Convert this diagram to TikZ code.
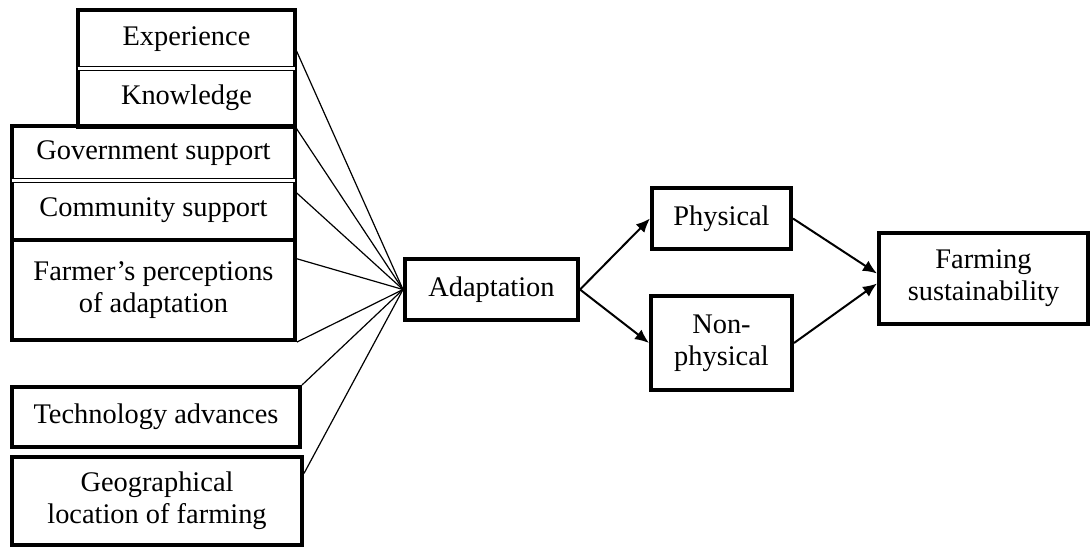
\documentclass[tikz,border=0pt]{standalone}
\usepackage{fontspec}
\setmainfont{Liberation Serif}
\usetikzlibrary{calc,arrows.meta}
\begin{document}
\begin{tikzpicture}[x=0.5pt,y=-0.5pt,font=\fontsize{14.2}{16}\selectfont,line join=miter,
	cell/.style={inner sep=0pt,align=center},
	thickbox/.style={draw,line width=2pt},
	sepline/.style={double,double distance=1.2pt,line width=0.5pt},
	link/.style={line width=0.6pt},
	flow/.style={line width=1pt,-{Latex[length=7pt,width=6pt]}}]
	\useasboundingbox (0,0) rectangle (1092,548);
	% factors on the left
	\node[cell,minimum width=108.5pt,minimum height=29pt] (exp) at (186.5,39) {Experience};
	\node[cell,minimum width=108.5pt,minimum height=29pt] (know) at (186.5,97.5) {Knowledge};
	\node[cell,minimum width=141.5pt,minimum height=27pt] (gov) at (153.5,153) {Government support};
	\node[cell,minimum width=141.5pt,minimum height=30pt] (comm) at (153.5,210) {Community support};
	\node[cell,thickbox,minimum width=141.5pt,minimum height=50pt] (farm) at (153.5,290) {Farmer’s perceptions\\of adaptation};
	\node[cell,thickbox,minimum width=144pt,minimum height=30pt] (tech) at (156,417) {Technology advances};
	\node[cell,thickbox,minimum width=145pt,minimum height=44pt] (geo) at (157,501) {Geographical\\location of farming};
	\draw[thickbox] (exp.north west) rectangle (know.south east);
	\draw[thickbox] (gov.north west) rectangle (comm.south east);
	\draw[sepline] (exp.south west)--(exp.south east);
	\draw[sepline] (gov.south west)--(gov.south east);
	% middle and right
	\node[cell,thickbox,minimum width=86.5pt,minimum height=30.5pt] (adapt) at (491.5,289.5) {Adaptation};
	\node[cell,thickbox,minimum width=69.5pt,minimum height=30.5pt] (phys) at (721.5,218.5) {Physical};
	\node[cell,thickbox,minimum width=70.5pt,minimum height=47pt] (nonphys) at (721.5,343) {Non-\\physical};
	\node[cell,thickbox,minimum width=104.5pt,minimum height=45.5pt] (sust) at (983.5,278.5) {Farming\\sustainability};
	% links into adaptation
	\draw[link] ($(exp.north east)!0.66!(exp.south east)$)--(adapt.west);
	\draw[link] (know.south east)--(adapt.west);
	\draw[link] ($(comm.north east)!0.2!(comm.south east)$)--(adapt.west);
	\draw[link] ($(farm.north east)!0.2!(farm.south east)$)--(adapt.west);
	\draw[link] (farm.south east)--(adapt.west);
	\draw[link] (tech.north east)--(adapt.west);
	\draw[link] ($(geo.north east)!0.2!(geo.south east)$)--(adapt.west);
	\draw[flow] (adapt.east)--(phys.west);
	\draw[flow] (adapt.east)--(nonphys.west);
	\draw[flow] (phys.east)--($(sust.west)+(0,-5)$);
	\draw[flow] (nonphys.east)--($(sust.west)+(0,5)$);
\end{tikzpicture}
\end{document}
